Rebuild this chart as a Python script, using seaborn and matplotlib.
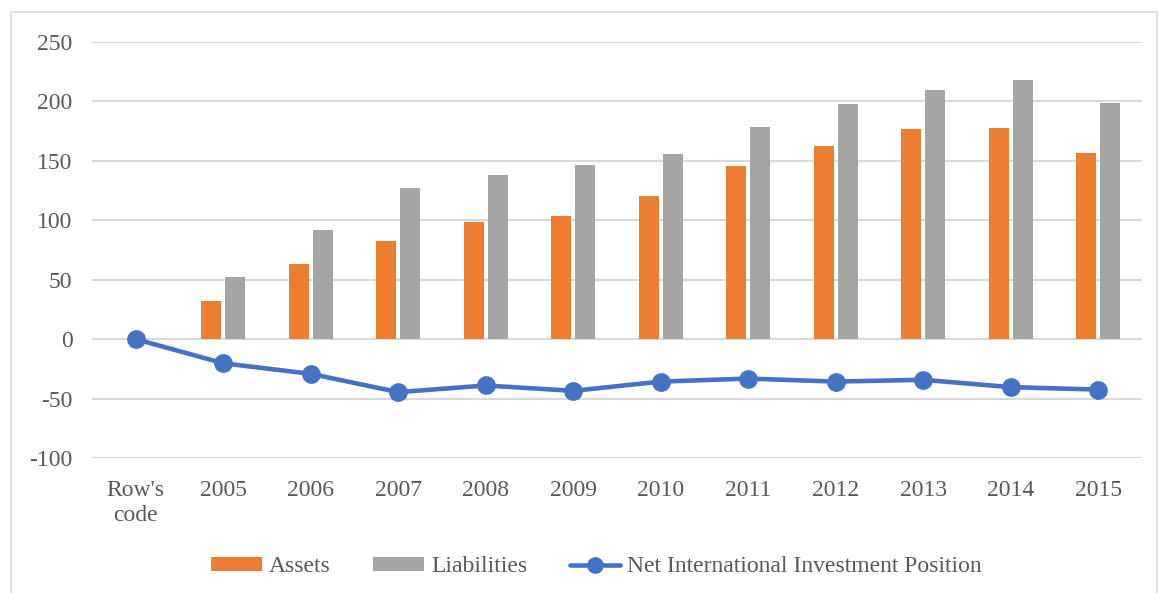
import numpy as np
import pandas as pd
import seaborn as sns
import matplotlib.pyplot as plt
from matplotlib.patches import Rectangle, Patch
from matplotlib.lines import Line2D

categories = ["Row's\ncode", "2005", "2006", "2007", "2008", "2009", "2010",
              "2011", "2012", "2013", "2014", "2015"]
assets = [np.nan, 32, 63, 82.8, 98.8, 103.8, 120.2, 145.3, 162.2, 176.8, 177.6, 156.2]
liabilities = [np.nan, 52.4, 92, 127.5, 137.7, 146.8, 156, 178.4, 197.6, 209.8, 217.8, 198.5]
net_position = [0, -20.3, -29.2, -44.6, -39, -43.5, -35.7, -33.2, -35.7, -34.2, -40.4, -42.4]
y_ticks = [-100, -50, 0, 50, 100, 150, 200, 250]

ORANGE = "#ED7D31"
GRAY = "#A5A5A5"
BLUE = "#4472C4"
TEXT = "#595959"
GRID = "#D9D9D9"
FS = 17

sns.set_theme(style="white")
plt.rcParams["font.family"] = ["Liberation Serif", "DejaVu Serif"]

bars = pd.DataFrame({
    "category": categories * 2,
    "series": ["Assets"] * len(categories) + ["Liabilities"] * len(categories),
    "value": assets + liabilities,
})
line = pd.DataFrame({"category": categories, "value": net_position})

fig = plt.figure(figsize=(11.59, 5.93), dpi=100)
ax = fig.add_axes([92 / 1159, 1 - 458 / 593, 1050 / 1159, 416 / 593])

sns.barplot(data=bars, x="category", y="value", hue="series", order=categories,
            hue_order=["Assets", "Liabilities"], palette=[ORANGE, GRAY],
            width=0.55, gap=0.17, errorbar=None, legend=False, ax=ax,
            saturation=1, linewidth=0, zorder=3)
sns.pointplot(data=line, x="category", y="value", order=categories, color=BLUE,
              markers="o", markersize=11, linewidth=3.3, errorbar=None, ax=ax,
              zorder=4)

ax.set_xlim(-0.5, len(categories) - 0.5)
ax.set_ylim(-100, 250)
ax.set_yticks(y_ticks)
ax.set_yticklabels([str(t) for t in y_ticks])
ax.yaxis.grid(True, color=GRID, linewidth=1.5, zorder=0)
ax.set_axisbelow(True)
for s in ax.spines.values():
    s.set_visible(False)
ax.set_xlabel("")
ax.set_ylabel("")
ax.tick_params(axis="both", length=0, labelsize=FS, colors=TEXT)
ax.tick_params(axis="x", pad=15.5)
ax.tick_params(axis="y", pad=14)
for lbl in ax.get_xticklabels():
    lbl.set_linespacing(1.25)
    lbl.set_verticalalignment("top")

handles = [
    Patch(facecolor=ORANGE, edgecolor="none"),
    Patch(facecolor=GRAY, edgecolor="none"),
    Line2D([0], [0], color=BLUE, linewidth=3.3, marker="o", markersize=11),
]
fig.legend(handles, ["Assets", "Liabilities", "Net International Investment Position"],
           loc="center", bbox_to_anchor=(596.5 / 1159, 1 - 567 / 593), ncol=3,
           frameon=False, fontsize=FS, labelcolor=TEXT, handlelength=2.15,
           handleheight=0.5, handletextpad=0.3, columnspacing=1.8)

fig.patches.append(Rectangle((11 / 1159, -0.05), 1146 / 1159, 1.05 - 12 / 593,
                             transform=fig.transFigure, fill=False,
                             edgecolor=GRID, linewidth=1.2))

fig.savefig("out.png", dpi=100, facecolor="white")
